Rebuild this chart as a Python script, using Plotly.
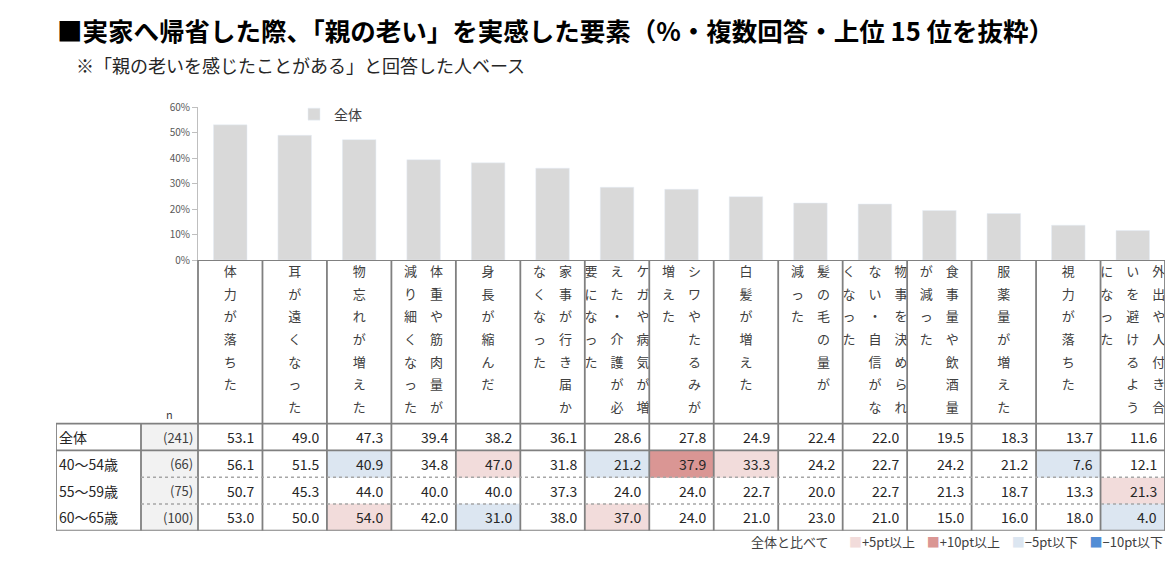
"""
実家へ帰省した際、「親の老い」を実感した要素 — bar chart of the total
plus a table by age group, cells shaded by the gap to the total.
"""

import plotly.graph_objects as go

# vertical category labels, "/" marks a column break (columns read right to left)
CATEGORIES = [
    "体力が落ちた",
    "耳が遠くなった",
    "物忘れが増えた",
    "体重や筋肉量が/減り細くなった",
    "身長が縮んだ",
    "家事が行き届か/なくなった",
    "ケガや病気が増/えた・介護が必/要になった",
    "シワやたるみが/増えた",
    "白髪が増えた",
    "髪の毛の量が/減った",
    "物事を決められ/ない・自信がな/くなった",
    "食事量や飲酒量/が減った",
    "服薬量が増えた",
    "視力が落ちた",
    "外出や人付き合/いを避けるよう/になった",
]

GROUPS = ["全体", "40～54歳", "55～59歳", "60～65歳"]
N_VALUES = ["(241)", "(66)", "(75)", "(100)"]

TOTAL = [53.1, 49.0, 47.3, 39.4, 38.2, 36.1, 28.6, 27.8, 24.9, 22.4, 22.0, 19.5, 18.3, 13.7, 11.6]
AGE_40_54 = [56.1, 51.5, 40.9, 34.8, 47.0, 31.8, 21.2, 37.9, 33.3, 24.2, 22.7, 24.2, 21.2, 7.6, 12.1]
AGE_55_59 = [50.7, 45.3, 44.0, 40.0, 40.0, 37.3, 24.0, 24.0, 22.7, 20.0, 22.7, 21.3, 18.7, 13.3, 21.3]
AGE_60_65 = [53.0, 50.0, 54.0, 42.0, 31.0, 38.0, 37.0, 24.0, 21.0, 23.0, 21.0, 15.0, 16.0, 18.0, 4.0]

Y_TICKS = [0, 10, 20, 30, 40, 50, 60]
LEGEND_ITEMS = ["+5pt以上", "+10pt以上", "−5pt以下", "−10pt以下"]

TITLE = "■実家へ帰省した際、「親の老い」を実感した要素（%・複数回答・上位 15 位を抜粋）"
SUBTITLE = "※「親の老いを感じたことがある」と回答した人ベース"

W, H = 1174, 564
FONT = "Noto Sans CJK JP"
TEXT = "#262626"
GRID = "#808080"
BAR = "#D9D9D9"
N_FILL = "#F2F2F2"
# white, +5, +10, -5, -10, n column
FILLS = ["#FFFFFF", "#F2DCDB", "#DA9694", "#DCE6F1", "#538DD5", N_FILL]

# pixel layout of the original
TABLE_LEFT, LABEL_RIGHT, DATA_LEFT, TABLE_RIGHT = 56, 141, 198, 1165
PLOT_TOP, HEADER_TOP, TABLE_BOTTOM = 102, 259, 537
ROW_PX = 27.5
COL_PX = (TABLE_RIGHT - DATA_LEFT) / len(CATEGORIES)
HEADER_PX = TABLE_BOTTOM - HEADER_TOP - ROW_PX * len(GROUPS)


def px_x(p):
    return p / W


def px_y(p):
    return 1 - p / H


def shade_code(value, base):
    diff = value - base
    if diff >= 9.95:
        return 2
    if diff >= 4.95:
        return 1
    if diff <= -9.95:
        return 4
    if diff <= -4.95:
        return 3
    return 0


def build_figure():
    rows = [TOTAL, AGE_40_54, AGE_55_59, AGE_60_65]
    ncat = len(CATEGORIES)
    x_label = -0.5 - (DATA_LEFT - TABLE_LEFT) / COL_PX
    x_n = -0.5 - (DATA_LEFT - LABEL_RIGHT) / COL_PX
    y_top = -0.5 - HEADER_PX / ROW_PX
    y_bottom = len(GROUPS) - 0.5

    fig = go.Figure()

    fig.add_trace(go.Bar(
        name="全体",
        x=list(range(ncat)),
        y=TOTAL,
        width=0.52,
        marker_color=BAR,
        hoverinfo="skip",
        xaxis="x",
        yaxis="y",
    ))

    # cell fills
    z = []
    for row in rows:
        codes = [0, 5] + [shade_code(v, b) for v, b in zip(row, TOTAL)]
        z.append([c + 0.5 for c in codes])
    scale = []
    for i, c in enumerate(FILLS):
        scale += [[i / len(FILLS), c], [(i + 1) / len(FILLS), c]]
    fig.add_trace(go.Heatmap(
        z=z,
        x=[x_label, x_n, -0.5] + [k + 0.5 for k in range(ncat)],
        y=[r - 0.5 for r in range(len(GROUPS) + 1)],
        zmin=0, zmax=len(FILLS),
        colorscale=scale,
        showscale=False,
        hoverinfo="skip",
        xaxis="x2",
        yaxis="y2",
    ))

    # vertical header labels, one point per character
    cx, cy, ct = [], [], []
    for j, label in enumerate(CATEGORIES):
        chunks = label.split("/")
        for ci, chunk in enumerate(chunks):
            off = ((len(chunks) - 1) / 2 - ci) * 26
            for r, ch in enumerate(chunk):
                cx.append(j + off / COL_PX)
                cy.append(y_top + (13 + r * 23.3) / ROW_PX)
                ct.append(ch)
    fig.add_trace(go.Scatter(
        x=cx, y=cy, text=ct, mode="text",
        textfont=dict(family=FONT, size=13, color="#404040"),
        hoverinfo="skip", showlegend=False,
        xaxis="x2", yaxis="y2",
    ))

    # numbers
    for r, row in enumerate(rows):
        for j, v in enumerate(row):
            fig.add_annotation(
                x=j + 0.5 - 6 / COL_PX, y=r, xref="x2", yref="y2",
                text=f"{v:.1f}", showarrow=False, xanchor="right",
                font=dict(family=FONT, size=14, color=TEXT),
            )
        fig.add_annotation(
            x=-0.5 - 3 / COL_PX, y=r, xref="x2", yref="y2",
            text=N_VALUES[r], showarrow=False, xanchor="right",
            font=dict(family=FONT, size=13, color="#404040"),
        )
        fig.add_annotation(
            x=x_label + 1 / COL_PX, y=r, xref="x2", yref="y2",
            text=GROUPS[r], showarrow=False, xanchor="left",
            font=dict(family=FONT, size=14, color=TEXT),
        )
    fig.add_annotation(
        x=(x_n - 0.5) / 2, y=-0.5 - 10 / ROW_PX, xref="x2", yref="y2",
        text="n", showarrow=False,
        font=dict(family=FONT, size=11, color="#404040"),
    )

    # grid lines
    def line(x0, y0, x1, y1, dash="solid", color=GRID, width=1.8):
        fig.add_shape(type="line", xref="x2", yref="y2", x0=x0, y0=y0, x1=x1, y1=y1,
                      line=dict(color=color, width=width, dash=dash))

    for k in range(ncat + 1):
        line(k - 0.5, y_top, k - 0.5, y_bottom)
    line(x_label, -0.5, x_label, y_bottom)
    line(x_n, -0.5, x_n, y_bottom)
    line(-0.5, y_top, ncat - 0.5, y_top)
    line(x_label, -0.5, ncat - 0.5, -0.5)
    line(x_label, 0.5, ncat - 0.5, 0.5)
    for r in range(1, len(GROUPS) - 1):
        line(x_n, r + 0.5, ncat - 0.5, r + 0.5, dash="dot", color="#A6A6A6", width=1.5)
    line(x_label, y_bottom, ncat - 0.5, y_bottom)

    # titles
    fig.add_annotation(
        x=px_x(55), y=px_y(22), xref="paper", yref="paper",
        xanchor="left", yanchor="middle",
        text=f"<b>{TITLE}</b>", showarrow=False,
        font=dict(family=FONT, size=25.5, color="#000000"),
    )
    fig.add_annotation(
        x=px_x(74), y=px_y(59), xref="paper", yref="paper",
        xanchor="left", yanchor="middle",
        text=SUBTITLE, showarrow=False,
        font=dict(family=FONT, size=18, color=TEXT),
    )

    # shading legend under the table
    parts = ["全体と比べて   "]
    for name, color in zip(LEGEND_ITEMS, FILLS[1:5]):
        parts.append(f"    <span style='color:{color}'>■</span>{name}")
    fig.add_annotation(
        x=px_x(TABLE_RIGHT), y=px_y(548), xref="paper", yref="paper",
        xanchor="right", yanchor="middle",
        text="".join(parts), showarrow=False,
        font=dict(family=FONT, size=13, color="#404040"),
    )

    fig.update_layout(
        width=W,
        height=H,
        margin=dict(l=0, r=0, t=0, b=0),
        paper_bgcolor="white",
        plot_bgcolor="rgba(0,0,0,0)",
        font=dict(family=FONT, color=TEXT),
        showlegend=True,
        legend=dict(
            x=px_x(294), y=px_y(93), xanchor="left", yanchor="top",
            font=dict(family=FONT, size=14, color="#404040"),
            bgcolor="rgba(0,0,0,0)",
        ),
        xaxis=dict(
            domain=[px_x(DATA_LEFT), px_x(TABLE_RIGHT)],
            range=[-0.5, len(CATEGORIES) - 0.5],
            visible=False, anchor="y",
        ),
        yaxis=dict(
            domain=[px_y(HEADER_TOP), px_y(PLOT_TOP)],
            range=[0, 60],
            tickvals=Y_TICKS,
            ticktext=[f"{v}%" for v in Y_TICKS],
            ticks="outside", ticklen=5, tickcolor="#BFBFBF",
            showline=True, linecolor="#BFBFBF", linewidth=1,
            showgrid=False, zeroline=False,
            tickfont=dict(family=FONT, size=10, color="#595959"),
            anchor="x",
        ),
        xaxis2=dict(
            domain=[px_x(TABLE_LEFT), px_x(TABLE_RIGHT)],
            range=[-0.5 - (DATA_LEFT - TABLE_LEFT) / COL_PX, len(CATEGORIES) - 0.5],
            visible=False, anchor="y2",
        ),
        yaxis2=dict(
            domain=[px_y(TABLE_BOTTOM), px_y(HEADER_TOP)],
            range=[len(GROUPS) - 0.5, -0.5 - HEADER_PX / ROW_PX],
            visible=False, anchor="x2",
        ),
    )
    return fig


def main():
    fig = build_figure()
    # the page body keeps an 8px default margin; drop it so the figure sits at 0,0
    fig.write_html(
        "out.html",
        config={"displayModeBar": False},
        post_script="document.body.style.margin = '0';",
    )


if __name__ == "__main__":
    main()
